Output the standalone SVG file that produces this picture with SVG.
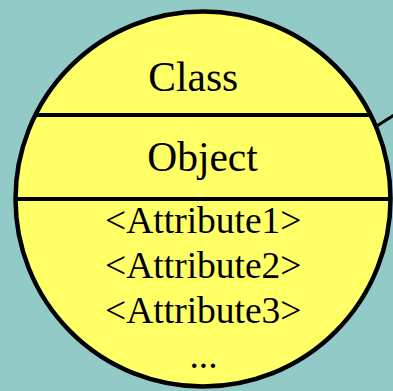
<svg xmlns="http://www.w3.org/2000/svg" width="393" height="391" viewBox="0 0 393 391">
  <style>
    .bg { fill: #92cac7; }
    .body { fill: #ffff66; stroke: #000000; stroke-width: 4.5; }
    .div { stroke: #000000; stroke-width: 4; }
    .edge { stroke: #000000; stroke-width: 3; fill: none; }
    .title { font-family: "Liberation Serif", "Times New Roman", serif; font-size: 41.5px; fill: #000000; text-anchor: middle; }
    .attr { font-family: "Liberation Serif", "Times New Roman", serif; font-size: 37.5px; fill: #000000; text-anchor: middle; }
  </style>
  <rect class="bg" x="0" y="0" width="393" height="391"/>
  <g id="connectors">
    <line class="edge" x1="372" y1="129" x2="402" y2="110"/>
  </g>
  <g id="node-object">
    <circle class="body" cx="203" cy="199" r="187.5"/>
    <line class="div" x1="35.5" y1="115" x2="370.5" y2="115"/>
    <line class="div" x1="15.5" y1="199" x2="390.5" y2="199"/>
    <text class="title" x="193.3" y="90.5">Class</text>
    <text class="title" x="202.5" y="171">Object</text>
    <text class="attr" x="203.3" y="233">&lt;Attribute1&gt;</text>
    <text class="attr" x="203.3" y="278">&lt;Attribute2&gt;</text>
    <text class="attr" x="203.3" y="323">&lt;Attribute3&gt;</text>
    <text class="attr" x="203.5" y="368">...</text>
  </g>
</svg>
